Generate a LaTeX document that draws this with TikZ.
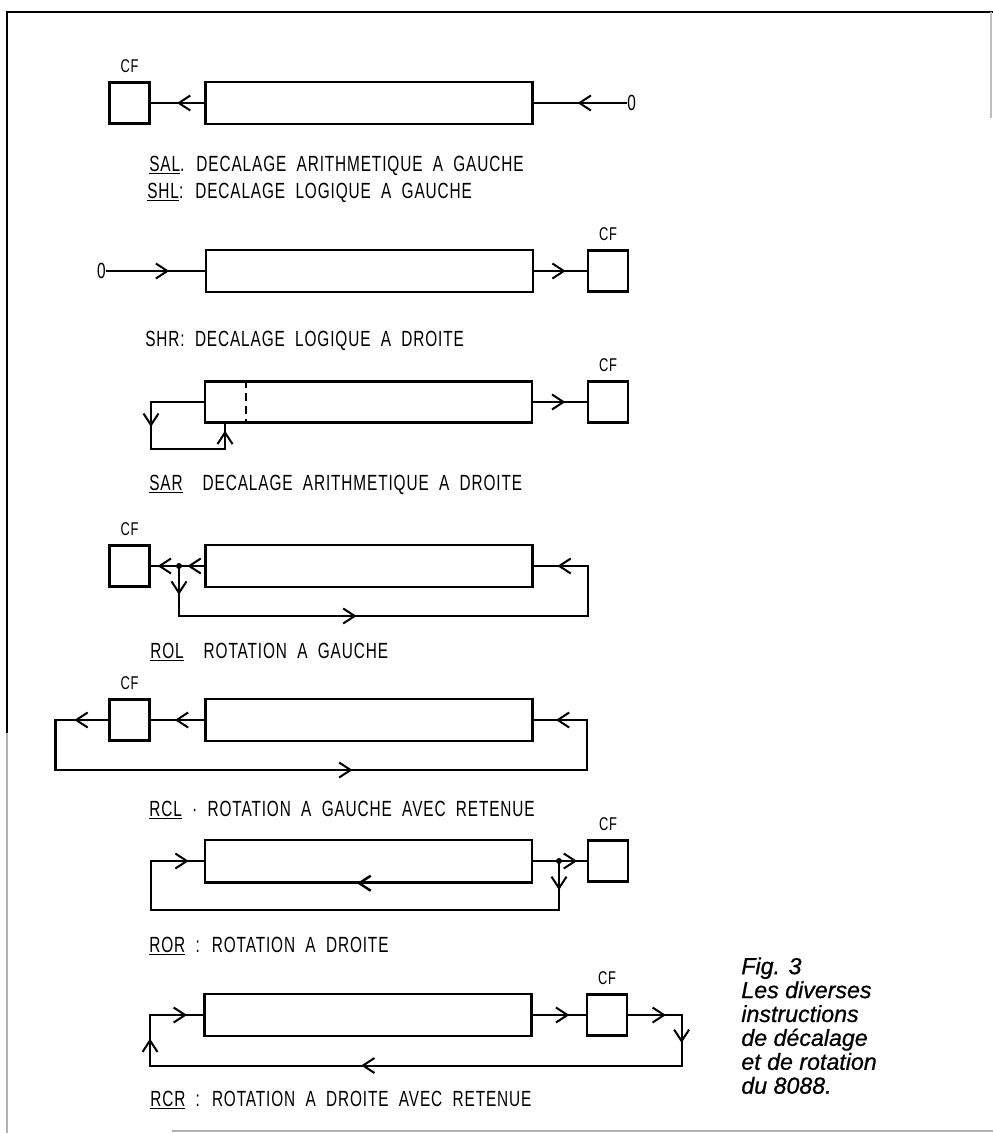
\documentclass[tikz,border=0pt]{standalone}
\usepackage{fontspec}
\usepackage{tikz}
\usetikzlibrary{arrows.meta,positioning,calc,decorations.markings}
\newfontfamily\lblfont[FakeStretch=0.7,LetterSpace=4,WordSpace=2]{Liberation Sans}
\newfontfamily\capfont[FakeBold=0.7]{Liberation Sans}

\begin{document}
\begin{tikzpicture}[
  x=0.2mm, y=-0.2mm,
  reg/.style={draw, line width=1.4pt, minimum width=65.4mm, minimum height=8.4mm, inner sep=0pt},
  cfbox/.style={draw, line width=1.4pt, minimum width=8mm, minimum height=8.2mm, inner sep=0pt},
  wire/.style={line width=1.15pt},
  marr/.style={postaction={decorate, decoration={markings, mark=at position #1 with {\arrow{Straight Barb[length=2.3mm, width=3mm]}}}}},
  lbl/.style={font=\lblfont\fontsize{12.5pt}{14pt}\selectfont, anchor=base west, inner sep=0pt},
  cflbl/.style={font=\lblfont\fontsize{10.5pt}{12pt}\selectfont, inner sep=0pt},
  dot/.style={circle, fill, inner sep=0pt, minimum size=1.2mm}
]
  \useasboundingbox (0,0) rectangle (993,1133);

  % Frame
  \draw[line width=1.3pt] (7,733) -- (7,12) -- (993,12);
  \draw[line width=1.1pt, gray!60] (7,733) -- (7,1133);
  \draw[line width=1pt, gray!60] (172,1131) -- (993,1131);
  \draw[line width=0.6pt, gray!50] (991,12) -- (991,118);

  % SAL / SHL
  \node[cfbox] (cfA) at (129.5,103) {};
  \node[reg] (regA) at (369,103) {};
  \node[lbl, anchor=west] (zA) at (627,103) {0};
  \node[cflbl, above=1.6mm of cfA] (cfAt) {CF};
  \draw[wire, marr=0.53] (zA.west) -- (regA.east);
  \draw[wire, marr=0.51] (regA.west) -- (cfA.east);
  \node[lbl] (salT) at (149,171) {\underline{SAL}. DECALAGE ARITHMETIQUE A GAUCHE};
  \node[lbl] (shlT) at (147,198) {\underline{SHL}: DECALAGE LOGIQUE A GAUCHE};

  % SHR
  \node[lbl, anchor=east] (zB) at (106,271) {0};
  \node[reg] (regB) at (369.5,271) {};
  \node[cfbox] (cfB) at (608,271) {};
  \node[cflbl, above=1.6mm of cfB] (cfBt) {CF};
  \draw[wire, marr=0.64] (zB.east) -- (regB.west);
  \draw[wire, marr=0.6] (regB.east) -- (cfB.west);
  \node[lbl] (shrT) at (145,346) {SHR: DECALAGE LOGIQUE A DROITE};

  % SAR
  \node[reg, minimum height=8.2mm] (regC) at (368.5,402) {};
  \node[cfbox] (cfC) at (608,402) {};
  \node[cflbl, above=1.6mm of cfC] (cfCt) {CF};
  \draw[wire, dashed, dash pattern=on 1.6mm off 1mm] ($(regC.north west)+(42,0)$) -- ($(regC.south west)+(42,0)$);
  \draw[wire, marr=0.6] (regC.east) -- (cfC.west);
  \coordinate (sarA) at (151,449);
  \coordinate (sarB) at (225,449);
  \draw[wire, marr=0.39, marr=0.965] (regC.west) -| (sarA) -- (sarB) -- (sarB |- regC.south);
  \node[lbl] (sarT) at (149,490) {\underline{SAR}\hspace{4mm}DECALAGE ARITHMETIQUE A DROITE};

  % ROL
  \node[cfbox] (cfD) at (129.5,566) {};
  \node[reg] (regD) at (369,566) {};
  \node[cflbl, above=1.6mm of cfD] (cfDt) {CF};
  \node[dot] (rolJ) at (179,566) {};
  \draw[wire, marr=0.315, marr=0.87] (regD.west) -- (cfD.east);
  \coordinate (rolB) at (588,616);
  \draw[wire, marr=0.051, marr=0.404, marr=0.958] (rolJ.center) |- (rolB) |- (regD.east);
  \node[lbl] (rolT) at (150,658) {\underline{ROL}\hspace{4mm}ROTATION A GAUCHE};

  % RCL
  \node[cfbox] (cfE) at (129.5,720) {};
  \node[reg] (regE) at (369,720) {};
  \node[cflbl, above=1.6mm of cfE] (cfEt) {CF};
  \draw[wire, marr=0.55] (regE.west) -- (cfE.east);
  \coordinate (rclL) at (55.5,770);
  \coordinate (rclR) at (587,770);
  \draw[wire, marr=0.046, marr=0.542, marr=0.97] (cfE.west) -| (rclL) -- (rclR) |- (regE.east);
  \node[lbl] (rclT) at (149,816) {\underline{RCL} · ROTATION A GAUCHE AVEC RETENUE};

  % ROR
  \node[reg] (regF) at (368.5,861) {};
  \node[cfbox] (cfF) at (608,861) {};
  \node[cflbl, above=1.6mm of cfF] (cfFt) {CF};
  \node[dot] (rorJ) at (559,861) {};
  \draw[wire, marr=0.82] (regF.east) -- (cfF.west);
  \coordinate (rorB) at (151,910);
  \draw[wire, marr=0.052, marr=0.973] (rorJ.center) |- (rorB) |- (regF.west);
  \draw[line width=1.4pt, marr=0.535] (regF.south east) -- (regF.south west);
  \node[lbl] (rorT) at (149,952) {\underline{ROR} : ROTATION A DROITE};

  % RCR
  \node[reg] (regG) at (368,1015) {};
  \node[cfbox] (cfG) at (607,1015) {};
  \node[cflbl, above=1.6mm of cfG] (cfGt) {CF};
  \draw[wire, marr=0.69] (regG.east) -- (cfG.west);
  \coordinate (rcrR) at (681.6,1065.5);
  \coordinate (rcrL) at (150,1065.5);
  \draw[wire, marr=0.051, marr=0.11, marr=0.574, marr=0.896, marr=0.978] (cfG.east) -| (rcrR) -- (rcrL) |- (regG.west);
  \node[lbl] (rcrT) at (150,1106) {\underline{RCR} : ROTATION A DROITE AVEC RETENUE};

  % Caption
  \node[font=\capfont\itshape\fontsize{13.2pt}{13.6pt}\selectfont, align=left, anchor=north west, inner sep=0pt] (cap) at (741,957)
    {Fig. 3\\Les diverses\\instructions\\de décalage\\et de rotation\\du 8088.};
\end{tikzpicture}
\end{document}
